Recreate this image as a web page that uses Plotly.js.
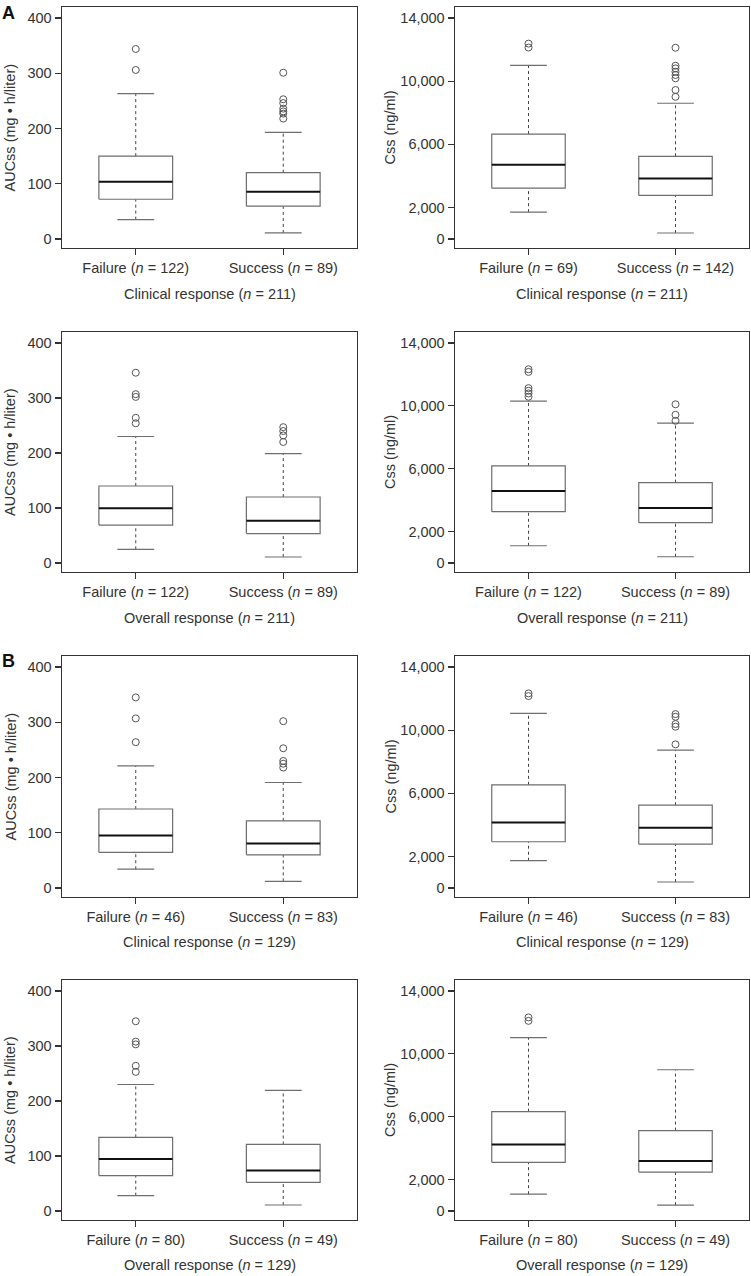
<!DOCTYPE html>
<html>
<head>
<meta charset="utf-8">
<script src="https://cdn.plot.ly/plotly-3.0.1.min.js"></script>
<style>
  html, body { margin: 0; padding: 0; background: #fff; }
  #chart { width: 751px; height: 1276px; }
</style>
</head>
<body>
<div id="chart"></div>
<script>
// groups and sample sizes
var groups = ['Failure', 'Success'];
var nClinical211 = [122, 89];
var nCssClinical211 = [69, 142];
var nOverall211 = [122, 89];
var nClinical129 = [46, 83];
var nOverall129 = [80, 49];

// box stats per group: [lower whisker, Q1, median, Q3, upper whisker]
var aucClinical211 = [[35, 72, 103.5, 150, 263], [11, 59.5, 85.5, 120, 193]];
var aucClinical211Out = [[344, 306], [301, 253, 246, 236, 231, 227, 218]];
var cssClinical211 = [[1700, 3220, 4700, 6650, 11000], [380, 2760, 3830, 5240, 8600]];
var cssClinical211Out = [[12380, 12130], [12120, 10980, 10810, 10600, 10390, 10180, 9440, 9010]];

var aucOverall211 = [[25, 69, 99.5, 140, 230], [11, 53.5, 77, 120, 199]];
var aucOverall211Out = [[346, 307, 302, 264, 254], [247, 240, 232, 220]];
var cssOverall211 = [[1100, 3270, 4580, 6180, 10300], [400, 2570, 3500, 5120, 8900]];
var cssOverall211Out = [[12330, 12160, 11130, 10960, 10790, 10580], [10100, 9430, 9050]];

var aucClinical129 = [[34, 64.5, 95, 143, 221], [12, 60, 80.5, 121.5, 191]];
var aucClinical129Out = [[345, 307, 264], [302, 253, 230, 225, 218]];
var cssClinical129 = [[1730, 2930, 4150, 6540, 11070], [380, 2780, 3820, 5250, 8740]];
var cssClinical129Out = [[12330, 12160], [11020, 10850, 10390, 10220, 9100]];

var aucOverall129 = [[28, 64.5, 94.5, 134, 230], [11, 52, 73.5, 121, 219.5]];
var aucOverall129Out = [[345, 308, 303, 264, 253], []];
var cssOverall129 = [[1070, 3100, 4230, 6320, 11030], [380, 2480, 3180, 5120, 8990]];
var cssOverall129Out = [[12320, 12100], []];

var aucTicks = [0, 100, 200, 300, 400];
var cssTicks = [0, 2000, 6000, 10000, 14000];
var aucTitle = 'AUCss (mg \u2022 h/liter)';
var cssTitle = 'Css (ng/ml)';

var W = 751, H = 1276;
var colX = [[62, 357], [455, 749]];
var rowY = [[7, 248], [332, 572], [656, 897], [980, 1220]];
var xTitleY = [294, 618, 942, 1265];

var panels = [
    {stats: aucClinical211, out: aucClinical211Out, n: nClinical211, resp: 'Clinical response (<i>n</i> = 211)', kind: 'auc'},
    {stats: cssClinical211, out: cssClinical211Out, n: nCssClinical211, resp: 'Clinical response (<i>n</i> = 211)', kind: 'css'},
    {stats: aucOverall211, out: aucOverall211Out, n: nOverall211, resp: 'Overall response (<i>n</i> = 211)', kind: 'auc'},
    {stats: cssOverall211, out: cssOverall211Out, n: nOverall211, resp: 'Overall response (<i>n</i> = 211)', kind: 'css'},
    {stats: aucClinical129, out: aucClinical129Out, n: nClinical129, resp: 'Clinical response (<i>n</i> = 129)', kind: 'auc'},
    {stats: cssClinical129, out: cssClinical129Out, n: nClinical129, resp: 'Clinical response (<i>n</i> = 129)', kind: 'css'},
    {stats: aucOverall129, out: aucOverall129Out, n: nOverall129, resp: 'Overall response (<i>n</i> = 129)', kind: 'auc'},
    {stats: cssOverall129, out: cssOverall129Out, n: nOverall129, resp: 'Overall response (<i>n</i> = 129)', kind: 'css'}
];

var font = {family: 'Liberation Sans, Arial, sans-serif', size: 14.5, color: '#333'};
var boxColor = '#6e6e6e';
var halfBox = 0.25, halfCap = 0.125;

var data = [];
var layout = {
    width: W, height: H,
    margin: {l: 0, r: 0, t: 0, b: 0},
    paper_bgcolor: '#fff', plot_bgcolor: '#fff',
    showlegend: false,
    font: font,
    annotations: []
};

panels.forEach(function (p, k) {
    var idx = k + 1;
    var xa = 'x' + idx, ya = 'y' + idx;
    var col = k % 2, row = Math.floor(k / 2);
    var cx = colX[col], ry = rowY[row];

    p.stats.forEach(function (s, g) {
        var pos = g + 1;
        var common = {xaxis: xa, yaxis: ya, hoverinfo: 'skip', showlegend: false};
        // whiskers
        data.push(Object.assign({
            type: 'scatter', mode: 'lines',
            x: [pos, pos, null, pos, pos],
            y: [s[0], s[1], null, s[3], s[4]],
            line: {color: '#444', width: 1, dash: '3px,3px'}
        }, common));
        // caps
        data.push(Object.assign({
            type: 'scatter', mode: 'lines',
            x: [pos - halfCap, pos + halfCap, null, pos - halfCap, pos + halfCap],
            y: [s[0], s[0], null, s[4], s[4]],
            line: {color: boxColor, width: 1.2}
        }, common));
        // box
        data.push(Object.assign({
            type: 'scatter', mode: 'lines', fill: 'toself', fillcolor: '#fff',
            x: [pos - halfBox, pos + halfBox, pos + halfBox, pos - halfBox, pos - halfBox],
            y: [s[1], s[1], s[3], s[3], s[1]],
            line: {color: boxColor, width: 1.2}
        }, common));
        // median
        data.push(Object.assign({
            type: 'scatter', mode: 'lines',
            x: [pos - halfBox, pos + halfBox],
            y: [s[2], s[2]],
            line: {color: '#111', width: 2}
        }, common));
        // outliers
        if (p.out[g].length) {
            data.push(Object.assign({
                type: 'scatter', mode: 'markers',
                x: p.out[g].map(function () { return pos; }),
                y: p.out[g],
                marker: {symbol: 'circle-open', size: 7, color: '#555', line: {width: 1, color: '#555'}}
            }, common));
        }
    });

    var isAuc = p.kind === 'auc';
    layout['xaxis' + (idx === 1 ? '' : idx)] = {
        domain: [cx[0] / W, cx[1] / W],
        anchor: ya,
        range: [0.5, 2.5],
        tickvals: [1, 2],
        ticktext: groups.map(function (gr, i) { return gr + ' (<i>n</i> = ' + p.n[i] + ')'; }),
        ticks: 'outside', ticklen: 6, tickcolor: '#333', tickwidth: 1.2,
        showline: true, mirror: true, linecolor: '#333', linewidth: 1.4,
        showgrid: false, zeroline: false, fixedrange: true,
        tickfont: font
    };
    layout['yaxis' + (idx === 1 ? '' : idx)] = {
        domain: [1 - ry[1] / H, 1 - ry[0] / H],
        anchor: xa,
        range: isAuc ? [-16.3, 420] : [-570, 14700],
        tickvals: isAuc ? aucTicks : cssTicks,
        tickformat: ',',
        ticks: 'outside', ticklen: 6, tickcolor: '#333', tickwidth: 1.2,
        showline: true, mirror: true, linecolor: '#333', linewidth: 1.4,
        showgrid: false, zeroline: false, fixedrange: true,
        tickfont: font
    };

    // axis titles
    layout.annotations.push({
        xref: 'paper', yref: 'paper',
        x: (cx[0] + cx[1]) / 2 / W, y: 1 - xTitleY[row] / H,
        xanchor: 'center', yanchor: 'middle',
        text: p.resp, showarrow: false, font: font
    });
    layout.annotations.push({
        xref: 'paper', yref: 'paper',
        x: (col === 0 ? 10 : 390) / W, y: 1 - (ry[0] + ry[1]) / 2 / H,
        xanchor: 'center', yanchor: 'middle', textangle: -90,
        text: isAuc ? aucTitle : cssTitle, showarrow: false, font: font
    });
});

// panel letters
[['A', 13], ['B', 661]].forEach(function (l) {
    layout.annotations.push({
        xref: 'paper', yref: 'paper', x: 8.5 / W, y: 1 - l[1] / H,
        xanchor: 'center', yanchor: 'middle', showarrow: false,
        text: '<b>' + l[0] + '</b>',
        font: {family: 'Liberation Sans, Arial, sans-serif', size: 18, color: '#111'}
    });
});

Plotly.newPlot('chart', data, layout, {displayModeBar: false, staticPlot: true});
</script>
</body>
</html>
